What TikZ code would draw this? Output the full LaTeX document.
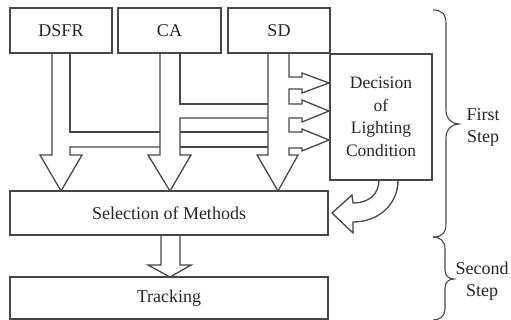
\documentclass[tikz,border=0pt]{standalone}
\usepackage{fontspec}
\setmainfont{Liberation Serif}
\begin{document}
\begin{tikzpicture}[x=1pt,y=-1pt,
  ln/.style={draw=black!72, line width=1.3pt, line join=miter},
  box/.style={ln, rectangle, inner sep=0pt, outer sep=0pt,
    font=\fontsize{18}{23}\selectfont, text=black!85},
  lbl/.style={inner sep=0pt, align=center, font=\fontsize{18}{22}\selectfont, text=black!85}]
\useasboundingbox (0,0) rectangle (511,320);

% input blocks
\node[box, minimum width=102pt, minimum height=45pt] (dsfr) at (61,30.5) {DSFR};
\node[box, minimum width=103pt, minimum height=45pt] (ca) at (169.5,30.5) {CA};
\node[box, minimum width=102pt, minimum height=45pt] (sd) at (279,30.5) {SD};

% decision block
\node[box, minimum width=102pt, minimum height=126pt, align=center,
      font=\fontsize{17.5}{22.5}\selectfont] (dec) at (381,117)
  {Decision\\of\\Lighting\\Condition};

% lower blocks
\node[box, minimum width=318pt, minimum height=44pt] (sel) at (169,213) {Selection of Methods};
\node[box, minimum width=318pt, minimum height=42pt] (trk) at (169,298) {Tracking};

% DSFR block arrow, its branch runs under the CA arrow
\draw[ln] (52,53) -- (52,155) -- (40,155) -- (61,191) -- (82,155) -- (70,155) -- (70,147) -- (160,147);
\draw[ln] (70,53) -- (70,132) -- (160,132);
\draw[ln] (180,132) -- (268,132);
\draw[ln] (180,147) -- (268,147);

% CA block arrow with its branch
\draw[ln] (160,53) -- (160,155) -- (148,155) -- (170,191) -- (191,155) -- (180,155) -- (180,118) -- (268,118);
\draw[ln] (180,53) -- (180,104) -- (268,104);

% SD block arrow with the three arrows into the decision block
\draw[ln] (268,53) -- (268,155) -- (257,155) -- (278,191) -- (298,155) -- (289,155)
  -- (289,148) -- (302,148) -- (302,151) -- (329,140) -- (302,129) -- (302,132) -- (289,132)
  -- (289,118) -- (302,118) -- (302,122) -- (329,111) -- (302,100) -- (302,104) -- (289,104)
  -- (289,89) -- (302,89) -- (302,93) -- (329,83) -- (302,73) -- (302,77) -- (289,77) -- (289,53);

% curved arrow from the decision block to the selection block
\draw[ln] (379,180) .. controls (379,195) and (368,203) .. (353,203) -- (352,195) -- (332,213)
  -- (353,233) -- (353,222) .. controls (378,222) and (398,205) .. (398,180);

% selection to tracking
\draw[ln] (161,235) -- (161,265) -- (148,265) -- (170,277) -- (191,265) -- (180,265) -- (180,235);

% braces
\draw[ln, line width=1.1pt] (433,10) .. controls (442,10) and (446,14) .. (446,24) -- (446,110)
  .. controls (446,119) and (452,124) .. (459,124)
  .. controls (452,124) and (446,129) .. (446,138) -- (446,223)
  .. controls (446,233) and (442,237) .. (433,237);
\draw[ln, line width=1.1pt] (433,237) .. controls (440,237) and (445,241) .. (445,249) -- (445,270)
  .. controls (445,276) and (449,279) .. (454,279)
  .. controls (449,279) and (445,282) .. (445,288) -- (445,309)
  .. controls (445,316) and (440,320) .. (433,320);

\node[lbl] (first) at (483,127) {First\\Step};
\node[lbl] (second) at (482,281) {Second\\Step};
\end{tikzpicture}
\end{document}
